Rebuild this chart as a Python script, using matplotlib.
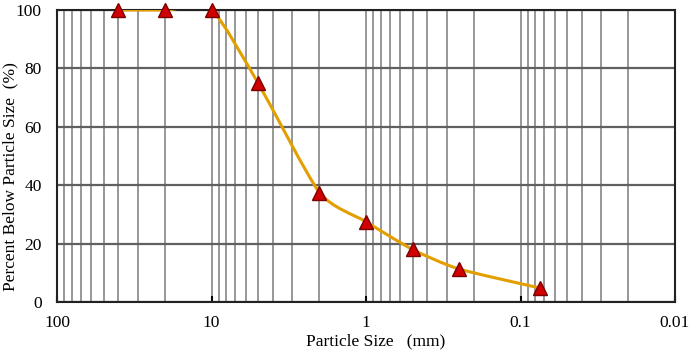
import numpy as np
import matplotlib
matplotlib.use("Agg")
import matplotlib.pyplot as plt
from matplotlib.path import Path
from matplotlib.patches import PathPatch
from matplotlib.ticker import FixedLocator, NullFormatter

particle_size = [40, 20, 10, 5, 2, 1, 0.5, 0.25, 0.075]
percent_below = [100, 100, 100, 75, 37.5, 27.5, 18, 11.3, 4.8]
x_ticks = [100, 10, 1, 0.1, 0.01]
x_tick_labels = ["100", "10", "1", "0.1", "0.01"]
y_ticks = [0, 20, 40, 60, 80, 100]

plt.rcParams['font.family'] = ['Liberation Serif', 'DejaVu Serif']

fig = plt.figure(figsize=(6.92, 3.53), dpi=100)
ax = fig.add_axes([57/692, 1-302/353, 618/692, 292/353])

ax.set_xscale('log')
ax.set_xlim(100, 0.01)
ax.set_ylim(0, 100)

# smoothed line drawn as cubic Bezier segments through the data points
lx = np.log10(np.array(particle_size, float)) * 154.5
yy = np.array(percent_below, float) * 2.92
P = np.column_stack([lx, yy])
n = len(P)
k = 0.11
verts = [P[0]]
codes = [Path.MOVETO]
for i in range(n - 1):
    p0 = P[i - 1] if i > 0 else P[i]
    p1 = P[i]
    p2 = P[i + 1]
    p3 = P[i + 2] if i + 2 < n else P[i + 1]
    c1 = p1 + (p2 - p0) * k
    c2 = p2 - (p3 - p1) * k
    verts += [c1, c2, p2]
    codes += [Path.CURVE4] * 3
verts = np.array(verts)
verts[:, 0] = 10 ** (verts[:, 0] / 154.5)
verts[:, 1] = verts[:, 1] / 2.92
path = Path(verts, codes)
patch = PathPatch(path, facecolor='none', edgecolor='#E39E00', lw=2.2, zorder=3)
ax.add_patch(patch)

ax.plot(particle_size, percent_below, linestyle='none', marker='^', markersize=10,
        markerfacecolor='#D00000', markeredgecolor='#7A0000', markeredgewidth=1.0,
        zorder=4, clip_on=False)

ax.xaxis.set_major_locator(FixedLocator(x_ticks))
ax.set_xticklabels(x_tick_labels)
minors = [m * 10.0 ** e for e in range(-2, 2) for m in range(2, 10)]
ax.xaxis.set_minor_locator(FixedLocator(minors))
ax.xaxis.set_minor_formatter(NullFormatter())
ax.set_yticks(y_ticks)

ax.grid(True, which='major', axis='x', color='#8f8f8f', lw=1.3)
ax.grid(True, which='minor', axis='x', color='#8f8f8f', lw=1.3)
ax.grid(True, which='major', axis='y', color='#606060', lw=1.6)
ax.set_axisbelow(True)

ax.tick_params(axis='x', which='major', direction='in', length=4, width=1.5,
               labelsize=12.5, pad=9.5, top=False)
ax.tick_params(axis='x', which='minor', length=0)
ax.tick_params(axis='y', length=0, labelsize=12.5, pad=11)

for s in ax.spines.values():
    s.set_color('#222222')
    s.set_linewidth(1.5)

ax.set_xlabel('Particle Size   (mm)', fontsize=12.5)
ax.xaxis.set_label_coords(0.515, -0.106)
ax.set_ylabel('Percent Below Particle Size  (%)', fontsize=12.5)
ax.yaxis.set_label_coords(-0.063, 0.428)

fig.savefig('out.png', dpi=100)
